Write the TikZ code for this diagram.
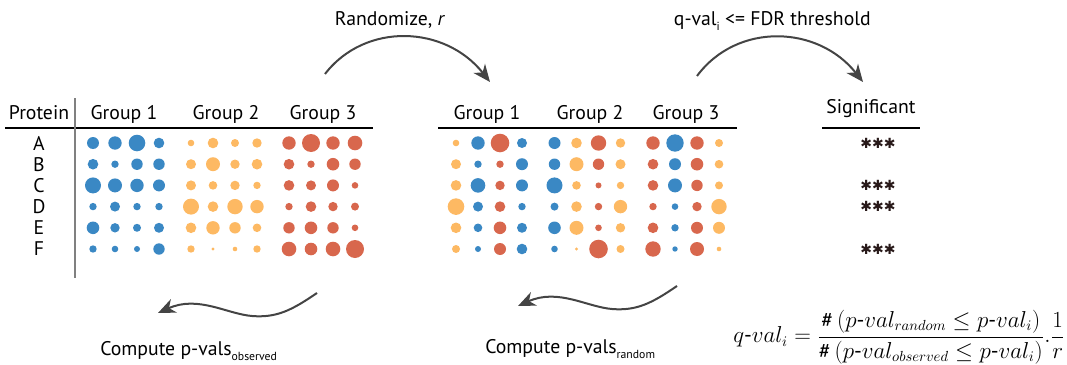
\documentclass[tikz,border=0pt]{standalone}
\usepackage{fontspec}
\setmainfont{PT Sans}
\newfontfamily\symfont{DejaVu Sans}
\usetikzlibrary{arrows.meta}
\definecolor{B}{RGB}{58,136,196}
\definecolor{O}{RGB}{253,185,99}
\definecolor{R}{RGB}{216,103,77}
\definecolor{carrow}{RGB}{68,68,68}
\definecolor{cstar}{RGB}{40,25,25}
\newcommand{\lsub}[1]{\raisebox{-4pt}{\fontsize{8.8}{10}\selectfont #1}}
\begin{document}
\begin{tikzpicture}[x=0.75pt,y=-0.75pt,
  lbl/.style={font=\fontsize{14.8}{17}\selectfont, inner sep=0pt},
  flow/.style={draw=carrow, line width=1.5pt, -{Stealth[length=13pt,width=11pt,inset=4pt]}},
  rule/.style={draw=black, line width=1.1pt},
  vrule/.style={draw=gray, line width=1.5pt},
  starmark/.style={font=\symfont\bfseries\fontsize{10.5}{11}\selectfont, text=cstar, inner sep=0pt}]
\useasboundingbox (0,0) rectangle (1067,364);

% ---------- left table ----------
\node[lbl, anchor=base] (protein) at (39,119) {Protein};
\node[lbl, anchor=base] (lg1) at (124,119) {Group 1};
\node[lbl, anchor=base] (lg2) at (226,119) {Group 2};
\node[lbl, anchor=base] (lg3) at (323,119) {Group 3};
\draw[rule] (5,128) -- (373,128);
\draw[vrule] (75,98) -- (75,278);
\foreach \L [count=\j from 0] in {A,B,C,D,E,F}
  \node[lbl] (row\L) at (39,{143+21.2*\j}) {\L};

\foreach \row [count=\j from 0] in {
 {B/6,B/6.7,B/8.3,B/5.3,O/3.3,O/5.3,O/4,O/4.7,R/6.7,R/9,R/6.7,R/7.3},
 {B/5.3,B/3.7,B/5.7,B/5.7,O/5,O/7,O/4.7,O/5.3,R/5.3,R/3.7,R/6.3,R/5.7},
 {B/8,B/7,B/6.7,B/6,O/5,O/4.3,O/4.7,O/3.7,R/5.3,R/5,R/6,R/3.3},
 {B/3.7,B/5,B/3.7,B/3.7,O/8,O/5.3,O/7.7,O/6.7,R/3.7,R/5.3,R/4.7,R/4},
 {B/6.3,B/4.7,B/4,B/5,O/5.3,O/6.7,O/5.7,O/4.3,R/5.7,R/6.3,R/5.7,R/3.3},
 {B/3.7,B/3.3,B/3,B/5.7,O/3.7,O/1.7,O/2.3,O/3.7,R/7.3,R/6.3,R/7.3,R/9}}
{
  \foreach \c/\r [count=\n from 0] in \row
    \fill[\c] ({93+22*mod(\n,4)+98*int(\n/4)},{143+21.2*\j}) circle[radius=\r];
}

% ---------- middle table ----------
\node[lbl, anchor=base] (mg1) at (487,119) {Group 1};
\node[lbl, anchor=base] (mg2) at (590,119) {Group 2};
\node[lbl, anchor=base] (mg3) at (686,119) {Group 3};
\draw[rule] (438,128) -- (737,128);
\foreach \row [count=\j from 0] in {
 {O/3.3,B/6.7,R/9.3,B/5,B/6,O/5.3,R/7.7,O/4.7,R/6.7,B/8.7,R/6.7,O/4},
 {O/5,B/3.7,R/3.7,B/6,B/5.7,O/7,R/5.7,O/5,R/5.3,B/6,R/6.3,O/4.3},
 {O/5.3,B/7.3,R/4.7,B/6,B/8,O/4.3,R/3,O/3.7,R/5.3,B/7,R/5.7,O/4},
 {O/8.3,B/5,R/5.3,B/3.7,B/4,O/5.3,R/3.7,O/6.7,R/3.7,B/3.3,R/4.7,O/7.7},
 {O/5.3,B/4.3,R/6.3,B/5,B/6.3,O/7,R/3.3,O/4.7,R/5.3,B/3.7,R/6,O/6},
 {O/4,B/3,R/6,B/5.3,B/3.3,O/1.7,R/9.3,O/4,R/7.7,B/2.7,R/7,O/2.3}}
{
  \foreach \c/\r [count=\n from 0] in \row
    \fill[\c] ({456+22*mod(\n,4)+98.5*int(\n/4)},{143+21.2*\j}) circle[radius=\r];
}

% ---------- significant ----------
\node[lbl, anchor=base] (sig) at (871,113) {Significant};
\draw[rule] (822,128) -- (920,128);
\node[starmark] (sA) at (878,143) {✱✱✱};
\node[starmark] (sC) at (878,185.4) {✱✱✱};
\node[starmark] (sD) at (878,206.6) {✱✱✱};
\node[starmark] (sF) at (878,249) {✱✱✱};

% ---------- top arrows ----------
\node[lbl, anchor=base] (rand) at (390,25) {Randomize, \textit{r}};
\coordinate (r0) at (325,74);
\coordinate (r1) at (490,82);
\draw[flow] (r0) .. controls +(40,-52) and +(-45,-57) .. (r1);

\node[lbl, anchor=base east] (qthr) at (871,25) {q-val\lsub{i} <= FDR threshold};
\coordinate (q0) at (697,76);
\coordinate (q1) at (863,82);
\draw[flow] (q0) .. controls +(40,-54) and +(-45,-57) .. (q1);

% ---------- bottom arrows ----------
\coordinate (a0) at (317,293);
\coordinate (am) at (252,316);
\coordinate (a1) at (158,313);
\draw[flow] (a0) .. controls +(-25,17) and +(25,2) .. (am) .. controls +(-25,-2) and +(40,-18) .. (a1);
\node[lbl, anchor=base west] (cobs) at (100,355) {Compute p-vals\lsub{observed}};

\coordinate (b0) at (677,286);
\coordinate (bm) at (612,309);
\coordinate (b1) at (518,306);
\draw[flow] (b0) .. controls +(-25,17) and +(25,2) .. (bm) .. controls +(-25,-2) and +(40,-18) .. (b1);
\node[lbl, anchor=base west] (crand) at (485,353) {Compute p-vals\lsub{random}};

% ---------- formula ----------
\node[inner sep=0pt, anchor=west, font=\fontsize{16.3}{19}\selectfont] (qf) at (733,337)
  {$\displaystyle q\mbox{-}val_i=\frac{\#\,(p\mbox{-}val_{random}\le p\mbox{-}val_i)}{\#\,(p\mbox{-}val_{observed}\le p\mbox{-}val_i)}.\frac{1}{r}$};
\end{tikzpicture}
\end{document}
